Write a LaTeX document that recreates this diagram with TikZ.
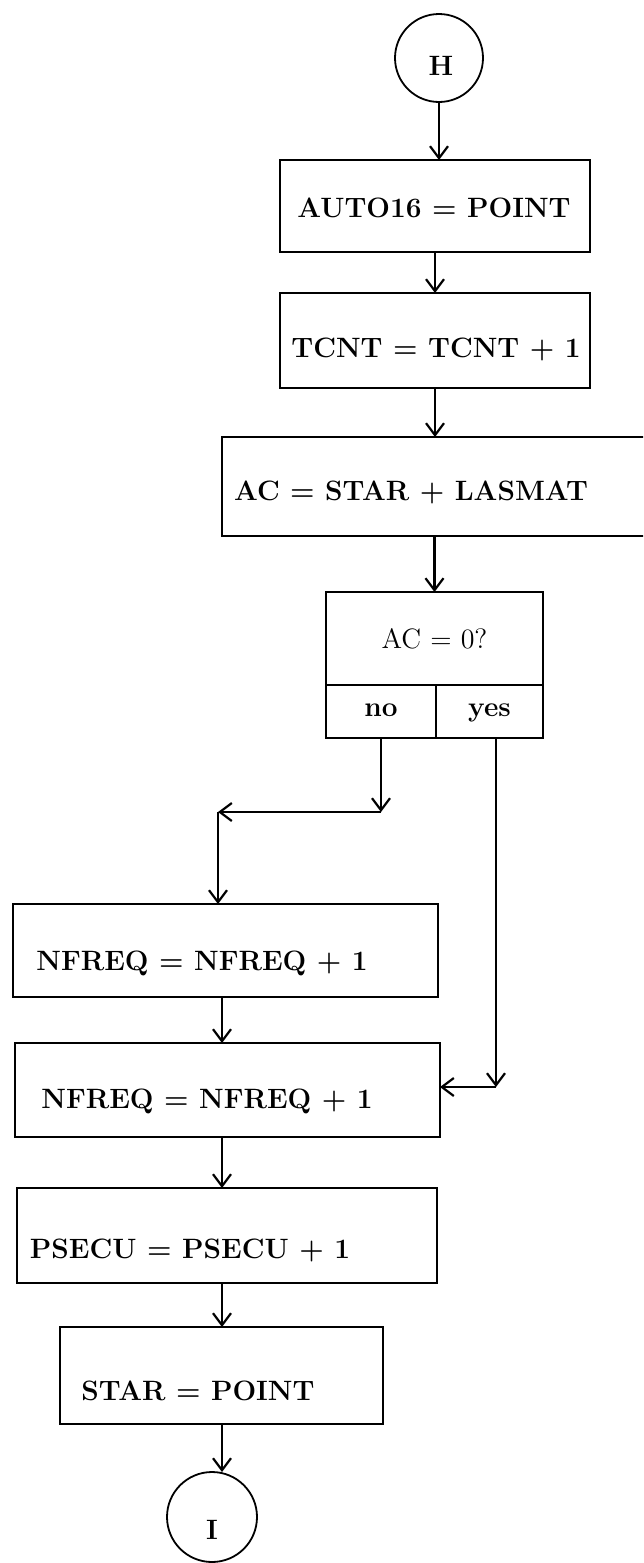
\documentclass[tikz,border=0pt]{standalone}
\usetikzlibrary{arrows.meta}
\begin{document}
\begin{tikzpicture}[x=0.5pt,y=-0.5pt,
  box/.style={draw,rectangle,inner sep=0pt,outer sep=0pt,line width=1pt},
  conn/.style={draw,circle,inner sep=0pt,outer sep=0pt,line width=0.9pt},
  lbl/.style={anchor=base,inner sep=0pt,font=\fontsize{14}{16}\selectfont\bfseries},
  clbl/.style={anchor=base,inner sep=0pt,font=\fontsize{14}{16}\selectfont\bfseries},
  cell/.style={box,minimum height=26.5pt,text height=7pt,text depth=2pt,font=\fontsize{14}{16}\selectfont\bfseries},
  flow/.style={line width=1.1pt,-{Straight Barb[length=6pt,width=9pt,line width=1.1pt]}}]
\useasboundingbox (0,0) rectangle (643,1563);
\clip (0,0) rectangle (643,1563);
% connectors (circles)
\node[conn,minimum size=44pt] (H) at (439,58) {};
\node[clbl] (Ht) at (441,75) {H};
\node[conn,minimum size=45pt] (I) at (212,1517) {};
\node[clbl] (It) at (212,1539) {I};
% process boxes
\node[box,minimum width=155pt,minimum height=46pt] (auto) at (435,206) {};
\node[lbl] (autot) at (434,217) {AUTO16 = POINT};
\node[box,minimum width=155pt,minimum height=47.5pt] (tcnt) at (435,340.5) {};
\node[lbl] (tcntt) at (436,357) {TCNT = TCNT + 1};
\node[box,minimum width=219pt,minimum height=49.5pt] (ac) at (441,486.5) {};
\node[lbl] (act) at (411,500) {AC = STAR + LASMAT};
% decision
\node[box,minimum width=108.5pt,minimum height=46.5pt,font=\fontsize{14}{16}\selectfont] (dec) at (434.5,638.5) {AC = 0?};
\node[cell,minimum width=55pt] (no) at (381,711.5) {no};
\node[cell,minimum width=53.5pt] (yes) at (489.5,711.5) {yes};
% lower boxes
\node[box,minimum width=212.5pt,minimum height=46.5pt] (nf1) at (225.5,950.5) {};
\node[lbl] (nf1t) at (202,970) {NFREQ = NFREQ + 1};
\node[box,minimum width=212.5pt,minimum height=47pt] (nf2) at (227.5,1090) {};
\node[lbl] (nf2t) at (207,1108) {NFREQ = NFREQ + 1};
\node[box,minimum width=210pt,minimum height=47.5pt] (psecu) at (227,1235.5) {};
\node[lbl] (psecut) at (190,1258) {PSECU = PSECU + 1};
\node[box,minimum width=161.5pt,minimum height=48.5pt] (star) at (221.5,1375.5) {};
\node[lbl] (start) at (198,1400) {STAR = POINT};
% routing points
\coordinate (c1) at (381,812);
\coordinate (c2) at (218,812);
\coordinate (c3) at (496,1087);
\coordinate (c4) at (222,0);
% connectors
\draw[flow] (H.south) -- (H.south |- auto.north);
\draw[flow] (auto.south) -- (tcnt.north);
\draw[flow] (tcnt.south) -- (tcnt.south |- ac.north);
\draw[flow] (dec.north |- ac.south) -- (dec.north);
\draw[flow] (no.south) -- (c1);
\draw[flow] (c1) -- (c2);
\draw[flow] (c2) -- (c2 |- nf1.north);
\draw[flow] (c3 |- yes.south) -- (c3);
\draw[flow] (c3) -- (c3 -| nf2.east);
\draw[flow] (c4 |- nf1.south) -- (c4 |- nf2.north);
\draw[flow] (c4 |- nf2.south) -- (c4 |- psecu.north);
\draw[flow] (c4 |- psecu.south) -- (c4 |- star.north);
\draw[flow] (c4 |- star.south) -- (c4 |- I.north);
\end{tikzpicture}
\end{document}
